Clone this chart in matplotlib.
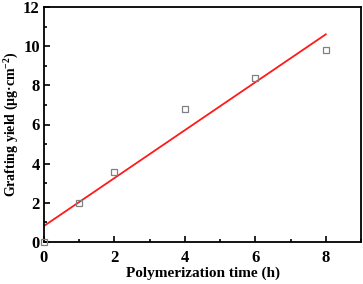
import matplotlib
matplotlib.use("Agg")
import matplotlib.pyplot as plt
import numpy as np
from matplotlib.ticker import MultipleLocator

# данные: время полимеризации (ч) и выход прививки (мкг/см2)
time_h = [0, 1, 2, 4, 6, 8]
yield_ug = [0.0, 2.0, 3.6, 6.8, 8.4, 9.8]

plt.rcParams["font.family"] = ["Liberation Serif", "DejaVu Serif"]
plt.rcParams["font.weight"] = "bold"
plt.rcParams["mathtext.fontset"] = "custom"
plt.rcParams["mathtext.rm"] = "Liberation Serif:bold"
plt.rcParams["mathtext.bf"] = "Liberation Serif:bold"
plt.rcParams["mathtext.it"] = "Liberation Serif:bold"

fig = plt.figure(figsize=(3.63, 2.84), dpi=100)
ax = fig.add_axes([44 / 363, 1 - 242 / 284, 317 / 363, 235 / 284])

ax.plot(time_h, yield_ug, linestyle="none", marker="s", markersize=5,
        markerfacecolor="none", markeredgecolor="#808080", markeredgewidth=0.9,
        clip_on=False, zorder=3)

# линейная аппроксимация
k, b = np.polyfit(time_h, yield_ug, 1)
xf = np.array([time_h[0], time_h[-1]])
ax.plot(xf, k * xf + b, color="#ff1a1a", linewidth=1.3, zorder=2)

ax.set_xlim(0, 9)
ax.set_ylim(0, 12)
ax.xaxis.set_major_locator(MultipleLocator(2))
ax.xaxis.set_minor_locator(MultipleLocator(1))
ax.yaxis.set_major_locator(MultipleLocator(2))
ax.yaxis.set_minor_locator(MultipleLocator(1))
ax.tick_params(which="both", direction="in", width=1.2, labelsize=12)
ax.tick_params(which="major", length=4)
ax.tick_params(which="minor", length=2.5)
ax.tick_params(axis="x", pad=6)
ax.tick_params(axis="y", pad=3)
for s in ax.spines.values():
    s.set_linewidth(1.3)
for lab in ax.get_xticklabels() + ax.get_yticklabels():
    lab.set_fontweight("bold")

ax.set_xlabel("Polymerization time (h)", fontsize=11, fontweight="bold", labelpad=0)
ax.set_ylabel("Grafting yield (μg·cm$^{-2}$)", fontsize=10, fontweight="bold")
ax.yaxis.set_label_coords(-0.072, 0.5)

fig.savefig("out.png", dpi=100)
